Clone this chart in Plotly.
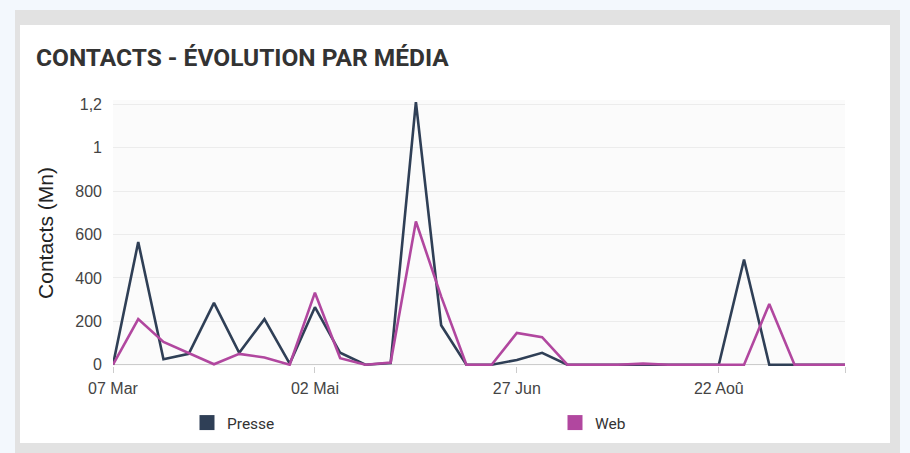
import plotly.graph_objects as go

# ---- data ----
weeks = [
    "2021-03-07", "2021-03-14", "2021-03-21", "2021-03-28", "2021-04-04", "2021-04-11",
    "2021-04-18", "2021-04-25", "2021-05-02", "2021-05-09", "2021-05-16", "2021-05-23",
    "2021-05-30", "2021-06-06", "2021-06-13", "2021-06-20", "2021-06-27", "2021-07-04",
    "2021-07-11", "2021-07-18", "2021-07-25", "2021-08-01", "2021-08-08", "2021-08-15",
    "2021-08-22", "2021-08-29", "2021-09-05", "2021-09-12", "2021-09-19", "2021-09-26",
]
presse = [0, 565, 25, 50, 285, 55, 210, 5, 265, 55, 0, 8, 1210, 182, 0, 0, 22, 55,
          0, 0, 0, 0, 0, 0, 0, 485, 0, 0, 0, 0]
web = [0, 210, 105, 55, 2, 50, 33, 0, 332, 30, 0, 10, 660, 315, 0, 0, 146, 127,
       0, 0, 0, 5, 0, 0, 0, 0, 280, 0, 0, 0]

x_tick_vals = ["2021-03-07", "2021-05-02", "2021-06-27", "2021-08-22", "2021-09-26"]
x_tick_text = ["07 Mar", "02 Mai", "27 Jun", "22 Aoû", ""]
y_tick_vals = [0, 200, 400, 600, 800, 1000, 1200]
y_tick_text = ["0", "200", "400", "600", "800", "1", "1,2"]

series_names = ["Presse", "Web"]
series_colors = ["#2f3f56", "#b1479f"]
legend_ids = ["legend", "legend2"]

# ---- figure ----
fig = go.Figure()
for name, vals, col in zip(series_names, [presse, web], series_colors):
    fig.add_trace(go.Scatter(
        x=weeks, y=vals, mode="lines", name=name,
        line=dict(color=col, width=2.6), showlegend=False,
        hoverinfo="x+y",
    ))
for name, col, lg in zip(series_names, series_colors, legend_ids):
    fig.add_trace(go.Scatter(
        x=[None], y=[None], mode="markers", name=name,
        marker=dict(symbol="square", size=15, color=col),
        showlegend=True, legend=lg,
    ))

# plot area: x 113..845, y 100..366
L, R, T, B = 113, 65, 100, 87
W, H = 910, 453
pw, ph = W - L - R, H - T - B


def px(x):
    return (x - L) / pw


def py(y):
    return (H - B - y) / ph


legend_style = dict(
    orientation="h", xref="container", yref="container",
    y=1 - 423 / H, xanchor="left", yanchor="middle",
    font=dict(family="Roboto, sans-serif", size=15.5, color="#333"),
    bgcolor="rgba(0,0,0,0)",
)

fig.update_layout(
    width=W, height=H,
    margin=dict(l=L, r=R, t=T, b=B, autoexpand=False),
    paper_bgcolor="#f3f8fd",
    plot_bgcolor="#fbfbfb",
    font=dict(family="Liberation Sans, Arial, sans-serif", color="#444"),
    shapes=[
        dict(type="rect", xref="paper", yref="paper", layer="below",
             x0=px(15), x1=px(900), y0=py(453), y1=py(10),
             fillcolor="#e2e2e2", line=dict(width=0)),
        dict(type="rect", xref="paper", yref="paper", layer="below",
             x0=px(20), x1=px(890), y0=py(443), y1=py(25),
             fillcolor="#ffffff", line=dict(width=0)),
        dict(type="rect", xref="paper", yref="paper", layer="below",
             x0=0, x1=1, y0=0, y1=1,
             fillcolor="#fbfbfb", line=dict(width=0)),
    ],
    annotations=[
        dict(text="<b>CONTACTS - ÉVOLUTION PAR MÉDIA</b>", xref="paper", yref="paper",
             x=px(34), y=py(57), xanchor="left", yanchor="middle", showarrow=False,
             font=dict(family="Roboto, sans-serif", size=24.5, color="#333333")),
    ],
    xaxis=dict(
        type="date",
        range=[weeks[0], weeks[-1]],
        tickvals=x_tick_vals, ticktext=x_tick_text,
        ticks="outside", ticklen=6, tickcolor="#cccccc", tickwidth=1,
        showgrid=False, zeroline=False,
        showline=False,
        tickfont=dict(size=16, color="#444"),
        ticklabelstandoff=2,
        automargin=False,
    ),
    yaxis=dict(
        range=[-6, 1220],
        tickvals=y_tick_vals, ticktext=y_tick_text,
        showgrid=True, gridcolor="#ececec", gridwidth=1,
        zeroline=True, zerolinecolor="#cccccc", zerolinewidth=1,
        ticks="", ticklabelstandoff=10,
        tickfont=dict(size=16, color="#444"),
        title=dict(text="Contacts (Mn)", standoff=15,
                   font=dict(size=21, color="#222")),
        automargin=False,
    ),
    legend=dict(x=187 / W, **legend_style),
    legend2=dict(x=555 / W, **legend_style),
)

fig.write_html("out.html")
